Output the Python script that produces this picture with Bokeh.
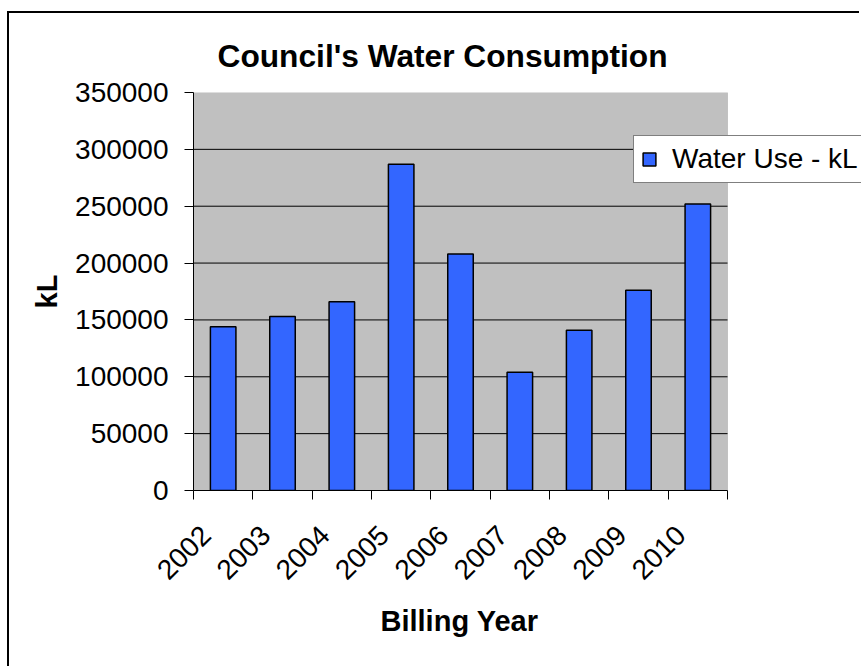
import math
from bokeh.plotting import figure
from bokeh.models import (Range1d, FixedTicker, ColumnDataSource, Legend, LegendItem,
                          BoxAnnotation, Title)
from bokeh.embed import file_html
from bokeh.resources import INLINE

# ---- data ----
years = ["2002", "2003", "2004", "2005", "2006", "2007", "2008", "2009", "2010"]
water_use_kl = [144000, 153000, 166000, 287000, 208000, 104000, 141000, 176000, 252000]
y_ticks = [0, 50000, 100000, 150000, 200000, 250000, 300000, 350000]

FONT = "Liberation Sans"

# ---- layout (page pixels) ----
CANVAS_X0, CANVAS_Y0 = 9, 13          # canvas origin inside the page (after the outer chart border)
FRAME_L, FRAME_T, FRAME_B = 193, 92, 490
PLOT_R = 727                           # right edge of the grey plot area
PAGE_W, PAGE_H = 861, 668

W = PAGE_W - CANVAS_X0
H = PAGE_H - CANVAS_Y0
n = len(years)
# frame runs to the right edge of the canvas so the legend can overhang the grey plot area
x_end = n * (PAGE_W - FRAME_L) / (PLOT_R - FRAME_L)
px_per_cat = (PLOT_R - FRAME_L) / n

positions = [i + 0.5 for i in range(n)]
src = ColumnDataSource(dict(x=positions, top=water_use_kl, year=years))

p = figure(width=W, height=H, output_backend="svg", toolbar_location=None,
           x_range=Range1d(0, x_end), y_range=Range1d(y_ticks[0], y_ticks[-1]),
           min_border_left=FRAME_L - CANVAS_X0, min_border_right=0,
           min_border_top=FRAME_T - CANVAS_Y0, min_border_bottom=PAGE_H - FRAME_B)
p.styles = {"margin-left": "7px", "margin-top": "11px",
            "border-left": "2px solid black", "border-top": "2px solid black"}

p.background_fill_color = "white"
p.border_fill_color = "white"
p.outline_line_color = None

# grey plot area
plot_area = BoxAnnotation(left=0, right=n, bottom=y_ticks[0], top=y_ticks[-1],
                          fill_color="#C0C0C0", fill_alpha=1,
                          line_color="#808080", line_width=1, level="underlay")
p.add_layout(plot_area)

# horizontal grid lines over the plot area only
grid_vals = y_ticks[1:-1]
p.segment(x0=[0] * len(grid_vals), x1=[n] * len(grid_vals), y0=grid_vals, y1=grid_vals,
          line_color="black", line_width=1)
p.xgrid.visible = False
p.ygrid.visible = False

# title
p.title.text = "Council's Water Consumption"
p.title.text_font = FONT
p.title.text_font_size = "31.7px"
p.title.text_font_style = "bold"
p.title.text_color = "black"
p.title.align = "left"
p.title.offset = 24
p.title.standoff = 38

r = p.vbar(x="x", top="top", width=0.43, bottom=0, source=src,
           fill_color="#3366FF", line_color="black", line_width=1.5)

# y axis
ya = p.yaxis[0]
ya.ticker = FixedTicker(ticks=y_ticks)
ya.major_label_overrides = {t: str(t) for t in y_ticks}
ya.major_label_text_font = FONT
ya.major_label_text_font_size = "28px"
ya.major_label_text_color = "black"
ya.major_tick_out = 9
ya.major_tick_in = 0
ya.major_tick_line_color = "black"
ya.minor_tick_out = 0
ya.minor_tick_in = 0
ya.axis_line_color = "black"
ya.major_label_standoff = 16
ya.axis_label = "kL"
ya.axis_label_text_font = FONT
ya.axis_label_text_font_size = "29px"
ya.axis_label_text_font_style = "bold"
ya.axis_label_text_color = "black"
ya.axis_label_standoff = 9

# x axis: labels near category centres, ticks at category boundaries
label_shift = 17 / px_per_cat
label_pos = [x - label_shift for x in positions]
xa = p.xaxis[0]
xa.bounds = (0, n)
xa.ticker = FixedTicker(ticks=label_pos, minor_ticks=list(range(n + 1)))
xa.major_label_overrides = {pos: y for pos, y in zip(label_pos, years)}
xa.major_label_orientation = math.pi / 4
xa.major_label_text_font = FONT
xa.major_label_text_font_size = "28px"
xa.major_label_text_color = "black"
xa.major_label_standoff = 31
xa.major_tick_out = 0
xa.major_tick_in = 0
xa.minor_tick_out = 9
xa.minor_tick_in = 0
xa.minor_tick_line_color = "black"
xa.axis_line_color = "black"

# x axis title, centred under the grey plot area
x_title_text = "Billing Year"
x_title_size = 29
x_title_width = 160   # approx. rendered width of the bold label
x_title = Title(text=x_title_text, text_font=FONT, text_font_size=f"{x_title_size}px",
                text_font_style="bold", text_color="black", align="left",
                offset=(PLOT_R - FRAME_L) / 2 - x_title_width / 2, standoff=24)
p.add_layout(x_title, "below")

# legend
legend = Legend(items=[LegendItem(label="Water Use - kL", renderers=[r])],
                location=(440, 307), margin=0, padding=7,
                glyph_width=16, glyph_height=16, label_standoff=15,
                label_text_font=FONT, label_text_font_size="28px",
                label_text_color="black",
                border_line_color="black", border_line_width=1,
                background_fill_color="white", background_fill_alpha=1)
p.add_layout(legend, "center")

open("out.html", "w").write(file_html(p, INLINE))
